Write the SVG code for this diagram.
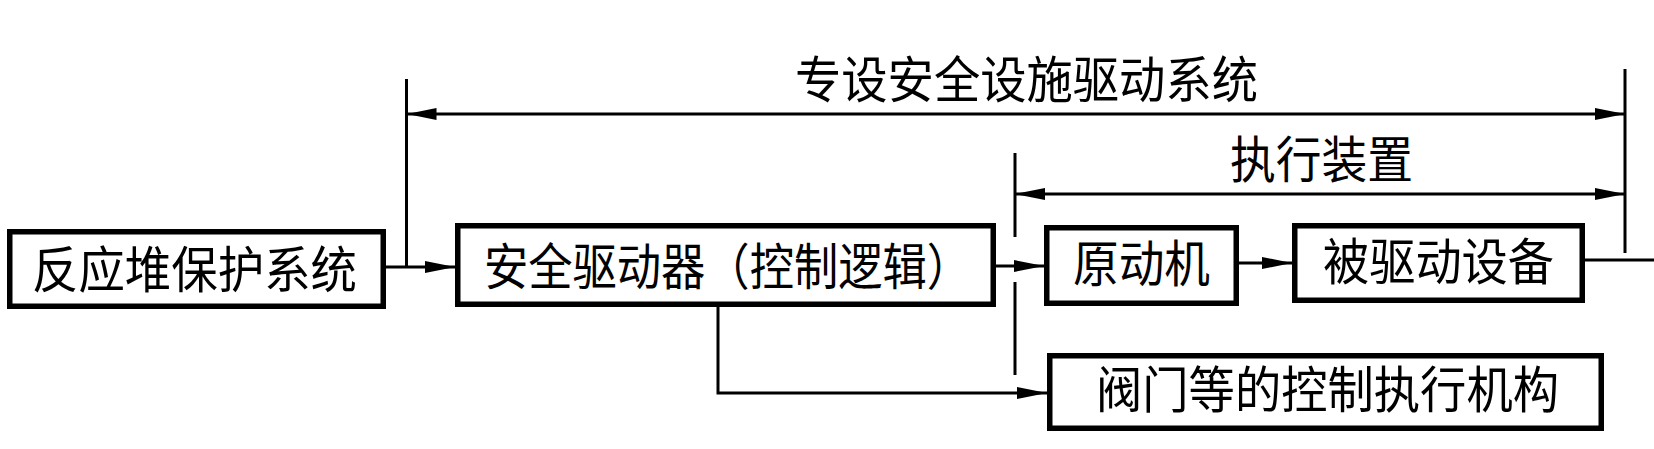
<svg xmlns="http://www.w3.org/2000/svg" width="1654" height="449" viewBox="0 0 1654 449">
<style>
.box{fill:#fff;stroke:#000;stroke-width:5.5}
.t{font-family:"Noto Sans CJK SC","Noto Sans CJK JP",sans-serif;font-size:50px;fill:#000}
.ln{fill:none;stroke:#000;stroke-width:3}
.ar{marker-end:url(#ah)}
.dbl{marker-start:url(#ah);marker-end:url(#ah)}
</style>
<defs>
<marker id="ah" markerUnits="userSpaceOnUse" viewBox="0 0 30 12" markerWidth="30" markerHeight="12" refX="30" refY="6" orient="auto-start-reverse">
<path d="M0,0 L30,6 L0,12 Z" fill="#000"/>
</marker>
</defs>
<rect width="1654" height="449" fill="#fff"/>
<g id="connectors">
<line class="ln ar" x1="386" y1="267" x2="455" y2="267"/>
<line class="ln" x1="406.5" y1="79" x2="406.5" y2="267"/>
<line class="ln dbl" x1="406.5" y1="114" x2="1625" y2="114"/>
<line class="ln" x1="1625" y1="69" x2="1625" y2="253"/>
<line class="ln ar" x1="996" y1="266" x2="1044" y2="266"/>
<line class="ln" x1="1015" y1="153" x2="1015" y2="237"/>
<line class="ln" x1="1015" y1="282" x2="1015" y2="375"/>
<line class="ln dbl" x1="1015" y1="194" x2="1625" y2="194"/>
<line class="ln ar" x1="1239" y1="263" x2="1292" y2="263"/>
<line class="ln" x1="1585" y1="260" x2="1654" y2="260"/>
<polyline class="ln ar" points="718,307 718,393 1047,393"/>
</g>
<g id="title1">
<text class="t" x="795" y="98" textLength="463" lengthAdjust="spacingAndGlyphs">专设安全设施驱动系统</text>
</g>
<g id="title2">
<text class="t" x="1230" y="178" textLength="183" lengthAdjust="spacingAndGlyphs">执行装置</text>
</g>
<g id="n1">
<rect class="box" x="9.75" y="231.75" width="373.5" height="74.5"/>
<text class="t" x="32" y="288" textLength="325" lengthAdjust="spacingAndGlyphs">反应堆保护系统</text>
</g>
<g id="n2">
<rect class="box" x="457.75" y="225.75" width="535.5" height="78.5"/>
<text class="t" x="484" y="285" textLength="487" lengthAdjust="spacingAndGlyphs">安全驱动器（控制逻辑）</text>
</g>
<g id="n3">
<rect class="box" x="1046.75" y="227.75" width="189.5" height="75.5"/>
<text class="t" x="1073" y="282" textLength="137" lengthAdjust="spacingAndGlyphs">原动机</text>
</g>
<g id="n4">
<rect class="box" x="1294.75" y="225.75" width="287.5" height="74.5"/>
<text class="t" x="1323" y="280" textLength="231" lengthAdjust="spacingAndGlyphs">被驱动设备</text>
</g>
<g id="n5">
<rect class="box" x="1049.75" y="355.75" width="551.5" height="72.5"/>
<text class="t" x="1096" y="408" textLength="463" lengthAdjust="spacingAndGlyphs">阀门等的控制执行机构</text>
</g>
</svg>
